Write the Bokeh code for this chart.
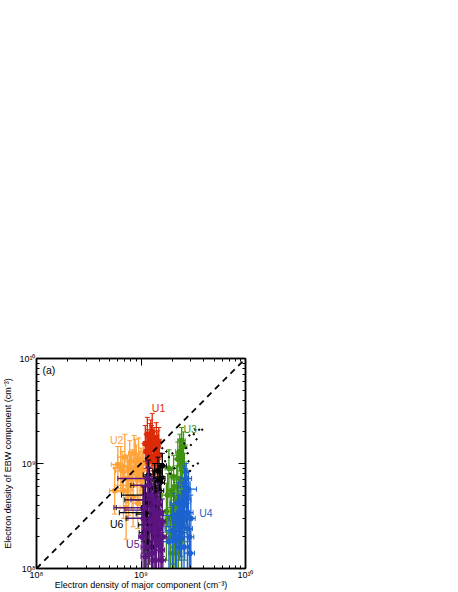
from bokeh.plotting import figure
from bokeh.models import LinearAxis, FixedTicker, Label
from bokeh.embed import file_html
from bokeh.resources import INLINE
from bokeh.core.properties import value
import math

# densities in units of 1e9 cm^-3
u1_x   = [1.10,1.15,1.18,1.22,1.25,1.28,1.30,1.33,1.36,1.40,1.42,1.45,1.50,1.20,1.26,1.35,1.12,1.48,1.16,1.24,1.32,1.38,1.44]
u1_y   = [1.55,1.90,1.25,1.70,1.35,2.00,1.15,1.55,1.10,1.75,1.30,1.45,1.20,1.05,1.60,1.00,1.30,1.60,1.45,1.80,1.40,1.25,1.10]
u1_ylo = [1.05,1.35,0.85,1.20,0.90,1.40,0.80,1.05,0.78,1.20,0.90,1.00,0.82,0.75,1.10,0.72,0.90,1.10,1.00,1.30,0.95,0.85,0.75]
u1_yhi = [2.30,2.75,1.80,2.40,1.95,3.00,1.65,2.20,1.55,2.45,1.85,2.05,1.70,1.50,2.30,1.40,1.90,2.20,2.10,2.60,2.00,1.80,1.60]
u1_xlo = [1.05,1.10,1.12,1.16,1.19,1.22,1.24,1.27,1.30,1.33,1.36,1.38,1.43,1.14,1.20,1.29,1.07,1.41,1.10,1.18,1.26,1.32,1.38]
u1_xhi = [1.16,1.21,1.24,1.28,1.31,1.34,1.37,1.40,1.43,1.47,1.49,1.52,1.58,1.26,1.32,1.42,1.18,1.55,1.22,1.30,1.38,1.44,1.50]

u2_x   = [0.60,0.66,0.70,0.74,0.78,0.82,0.86,0.90,0.95,1.00,1.05,0.68,0.76,0.84,0.92,0.72,0.64,0.80,0.98,0.88,0.56,0.93,1.03]
u2_y   = [0.98,0.85,1.15,0.72,1.05,0.88,1.25,0.95,1.10,0.90,1.00,0.55,0.62,0.48,0.78,0.38,0.92,0.82,0.70,1.05,0.55,0.42,0.85]
u2_ylo = [0.62,0.55,0.72,0.42,0.68,0.55,0.82,0.60,0.70,0.55,0.65,0.30,0.32,0.25,0.45,0.19,0.58,0.50,0.40,0.68,0.33,0.24,0.52]
u2_yhi = [1.45,1.30,1.90,1.20,1.65,1.35,1.85,1.50,1.75,1.40,1.55,0.95,1.05,0.85,1.25,0.70,1.45,1.30,1.15,1.70,0.90,0.70,1.30]
u2_xlo = [0.52,0.57,0.60,0.66,0.69,0.73,0.76,0.80,0.85,0.90,0.95,0.60,0.66,0.75,0.82,0.63,0.55,0.70,0.88,0.78,0.50,0.82,0.93]
u2_xhi = [0.69,0.75,0.80,0.83,0.88,0.92,0.97,1.00,1.06,1.11,1.16,0.77,0.86,0.94,1.03,0.81,0.73,0.90,1.09,0.99,0.64,1.04,1.14]

u3_x   = [1.75,1.85,1.95,2.05,2.15,2.25,2.30,2.35,2.40,2.45,2.50,2.55,2.60,2.00,2.20,2.10,1.90,2.38,2.48,2.28,1.80,2.42,1.92,2.12,2.44,2.62,2.05,2.32]
u3_y   = [0.35,0.90,0.55,0.75,0.28,1.10,0.45,1.30,0.70,1.65,1.00,1.45,0.85,0.22,0.60,0.40,0.30,1.20,0.50,0.18,0.50,0.95,0.20,0.16,0.25,0.30,0.14,0.33]
u3_ylo = [0.12,0.55,0.28,0.45,0.10,0.70,0.20,0.85,0.40,1.10,0.60,0.90,0.50,0.10,0.30,0.18,0.10,0.75,0.22,0.10,0.25,0.55,0.10,0.10,0.10,0.12,0.10,0.14]
u3_yhi = [0.65,1.35,0.90,1.20,0.50,1.60,0.75,1.90,1.10,2.20,1.50,2.00,1.25,0.40,0.95,0.70,0.55,1.70,0.85,0.35,0.80,1.45,0.38,0.30,0.45,0.52,0.26,0.55]
u3_xlo = [1.55,1.70,1.78,1.90,1.95,2.05,2.10,2.15,2.20,2.25,2.30,2.35,2.40,1.80,2.00,1.90,1.70,2.18,2.28,2.05,1.60,2.22,1.72,1.92,2.22,2.42,1.85,2.12]
u3_xhi = [1.95,2.00,2.12,2.20,2.35,2.45,2.50,2.55,2.60,2.65,2.70,2.75,2.80,2.20,2.40,2.30,2.10,2.58,2.68,2.50,2.00,2.62,2.12,2.32,2.66,2.82,2.25,2.52]

u4_x   = [1.85,2.05,2.20,2.35,2.50,2.60,2.65,2.70,2.75,2.45,2.30,2.55,2.15,2.80,2.62,2.40,2.00,2.72,2.58,2.85,2.90,3.00,2.78,2.95,2.25]
u4_y   = [0.18,0.32,0.20,0.25,0.35,0.48,0.60,0.72,0.53,0.22,0.30,0.42,0.19,0.34,0.65,0.28,0.23,0.45,0.16,0.57,0.20,0.30,0.24,0.14,0.42]
u4_ylo = [0.10,0.18,0.10,0.12,0.20,0.30,0.38,0.48,0.32,0.10,0.15,0.24,0.10,0.18,0.42,0.13,0.11,0.26,0.10,0.35,0.10,0.10,0.10,0.10,0.22]
u4_yhi = [0.32,0.52,0.34,0.42,0.55,0.72,0.90,1.00,0.82,0.38,0.50,0.65,0.32,0.55,0.95,0.46,0.40,0.72,0.28,0.85,0.34,0.50,0.42,0.24,0.66]
u4_xlo = [1.60,1.50,1.95,1.70,2.20,2.30,2.35,2.40,2.45,2.10,2.00,2.25,1.80,2.50,2.30,2.10,1.70,2.40,2.25,2.55,2.60,2.70,2.45,2.60,1.90]
u4_xhi = [2.10,2.60,2.50,2.65,2.85,2.90,2.95,3.05,3.00,2.75,2.60,2.85,2.55,3.15,2.95,2.70,2.35,3.00,2.85,3.40,3.20,3.30,3.10,3.25,2.60]

u6_x   = [1.05,1.10,1.15,1.20,1.25,1.30,1.35,1.40,1.45,1.50,1.55,1.60,1.22,1.32,1.12,1.42,1.18,1.28,1.52,1.38,1.07,1.17,1.27,1.37,1.47]
u6_y   = [0.38,0.50,0.30,0.62,0.42,0.26,0.70,0.35,0.85,0.55,0.72,0.95,0.45,0.58,0.34,0.40,0.78,0.33,0.66,0.48,0.22,0.18,0.16,0.20,0.24]
u6_ylo = [0.18,0.28,0.13,0.38,0.22,0.10,0.42,0.18,0.55,0.30,0.45,0.65,0.24,0.34,0.15,0.20,0.50,0.16,0.40,0.26,0.10,0.10,0.10,0.10,0.10]
u6_yhi = [0.60,0.75,0.48,0.90,0.65,0.42,1.00,0.55,1.15,0.80,1.00,1.25,0.68,0.85,0.52,0.62,1.08,0.50,0.95,0.72,0.36,0.30,0.28,0.34,0.40]
u6_xlo = [0.58,0.65,0.72,0.80,1.10,0.95,1.20,1.25,1.30,1.35,1.42,1.48,0.70,1.18,0.62,1.28,1.05,0.90,1.38,1.24,0.96,1.06,1.16,1.26,1.36]
u6_xhi = [1.25,1.30,1.30,1.35,1.40,1.45,1.50,1.55,1.60,1.65,1.70,1.75,1.38,1.48,1.28,1.58,1.33,1.45,1.68,1.53,1.18,1.28,1.38,1.48,1.58]

u5_x   = [1.02,1.08,1.12,1.18,1.22,1.28,1.32,1.38,1.42,1.48,1.52,1.58,1.62,1.15,1.25,1.35,1.45,1.05,1.55,1.30,1.40,1.20,1.10,1.60,1.50,1.36]
u5_y   = [0.20,0.38,0.16,0.62,0.28,0.14,0.45,0.22,0.33,0.17,0.26,0.12,0.20,0.72,0.50,0.30,0.42,0.30,0.15,0.36,0.19,0.24,0.13,0.28,0.34,0.12]
u5_ylo = [0.10,0.20,0.10,0.38,0.13,0.10,0.25,0.10,0.16,0.10,0.12,0.10,0.10,0.45,0.28,0.14,0.22,0.14,0.10,0.18,0.10,0.11,0.10,0.13,0.16,0.10]
u5_yhi = [0.36,0.60,0.30,0.92,0.46,0.26,0.70,0.38,0.52,0.30,0.44,0.22,0.35,1.05,0.75,0.50,0.65,0.50,0.27,0.56,0.33,0.40,0.24,0.46,0.54,0.22]
u5_xlo = [0.95,0.55,1.00,0.85,1.10,1.15,0.80,1.25,1.28,1.35,1.38,1.45,1.50,0.60,1.12,1.20,1.30,0.75,1.42,0.70,1.26,1.08,1.00,1.48,1.38,1.24]
u5_xhi = [1.14,1.20,1.24,1.30,1.35,1.40,1.45,1.52,1.56,1.62,1.66,1.72,1.76,1.28,1.38,1.48,1.60,1.18,1.68,1.44,1.54,1.32,1.20,1.72,1.64,1.48]

dots_x = [3.30,3.60,3.85,3.20,2.90,3.40,3.00,2.70,3.50,2.85,1.60,1.75,1.85,2.00,1.70,1.55,2.10,2.95,3.15,1.90,1.65,2.60,2.80]
dots_y = [2.10,2.10,2.10,1.90,1.85,1.70,1.50,1.40,1.00,1.05,1.40,1.30,1.15,1.25,1.05,0.95,0.90,0.85,0.95,0.80,0.75,1.55,1.25]

diag_x = [0.1, 10.0]
diag_y = [0.1, 10.0]

unit = 1e9
major_ticks = [1e8, 1e9, 1e10]
minor_ticks = [2e8,3e8,4e8,5e8,6e8,7e8,8e8,9e8,2e9,3e9,4e9,5e9,6e9,7e9,8e9,9e9]
tick_labels = {1e8: "10⁸", 1e9: "10⁹", 1e10: "10¹⁰"}

series = [
    ("#ffa238", u2_x, u2_y, u2_ylo, u2_yhi, u2_xlo, u2_xhi),
    ("#dc2a08", u1_x, u1_y, u1_ylo, u1_yhi, u1_xlo, u1_xhi),
    ("#3f9212", u3_x, u3_y, u3_ylo, u3_yhi, u3_xlo, u3_xhi),
    ("#1c62d0", u4_x, u4_y, u4_ylo, u4_yhi, u4_xlo, u4_xhi),
    ("#000000", u6_x, u6_y, u6_ylo, u6_yhi, u6_xlo, u6_xhi),
    ("#5c1580", u5_x, u5_y, u5_ylo, u5_yhi, u5_xlo, u5_xhi),
]
names = [("U1", 1.27, 3.36, "#dc2a08"), ("U2", 0.505, 1.66, "#ffa238"), ("U3", 2.55, 2.12, "#3f9212"),
         ("U4", 3.6, 0.34, "#1c62d0"), ("U5", 0.72, 0.173, "#5c1580"), ("U6", 0.505, 0.267, "#000000")]

FONT = "Liberation Sans"
p = figure(width=442, height=592, x_axis_type="log", y_axis_type="log",
           x_range=(1e8, 1e10), y_range=(1e8, 1e10),
           output_backend="svg", toolbar_location=None,
           min_border_left=35, min_border_right=197, min_border_top=358, min_border_bottom=15)
p.grid.visible = False
p.outline_line_color = "black"
p.outline_line_width = 1.5
p.background_fill_color = "white"

for c, x, y, ylo, yhi, xlo, xhi in series:
    X = [v * unit for v in x]; Y = [v * unit for v in y]
    YL = [v * unit for v in ylo]; YH = [v * unit for v in yhi]
    XL = [v * unit for v in xlo]; XH = [v * unit for v in xhi]
    p.segment(X, YL, X, YH, line_color=c, line_width=1.3)
    p.segment(XL, Y, XH, Y, line_color=c, line_width=1.3)
    p.scatter(X, YH, marker="dash", size=5, line_color=c, line_width=1)
    p.scatter(X, YL, marker="dash", size=5, line_color=c, line_width=1)
    p.scatter(XL, Y, marker="dash", size=5, angle=math.pi / 2, line_color=c, line_width=1)
    p.scatter(XH, Y, marker="dash", size=5, angle=math.pi / 2, line_color=c, line_width=1)
    p.scatter(X, Y, marker="circle", size=5, fill_color=c, line_color=c)

p.scatter([v * unit for v in dots_x], [v * unit for v in dots_y], marker="circle", size=1.5,
          fill_color="black", line_color="black")
p.line([v * unit for v in diag_x], [v * unit for v in diag_y], line_color="black", line_width=1.8, line_dash="6 5")

for t, x, y, c in names:
    p.text([x * unit], [y * unit], text=[t], text_color=c, text_font=value(FONT), text_font_size="10.5px",
           text_baseline="middle", text_align="left")
p.add_layout(Label(x=1.14e8, y=7.7e9, text="(a)", text_font=FONT, text_font_size="10.5px", text_color="black",
                   text_baseline="middle"))

def style(ax, labels=True):
    ax.ticker = FixedTicker(ticks=major_ticks, minor_ticks=minor_ticks)
    ax.major_tick_in = 7; ax.major_tick_out = 0
    ax.minor_tick_in = 3; ax.minor_tick_out = 0
    ax.major_tick_line_color = "black"; ax.minor_tick_line_color = "black"
    ax.major_tick_line_width = 1; ax.minor_tick_line_width = 1
    ax.axis_line_color = "black"; ax.axis_line_width = 1.5
    if labels:
        ax.major_label_overrides = tick_labels
        ax.major_label_text_font = FONT
        ax.major_label_text_font_size = "9px"
        ax.major_label_text_color = "black"
        ax.major_label_standoff = 1
        ax.axis_label_text_font = FONT
        ax.axis_label_text_font_size = "9px"
        ax.axis_label_text_font_style = "normal"
        ax.axis_label_text_color = "black"
        ax.axis_label_standoff = 0
    else:
        ax.major_label_text_font_size = "0px"
        ax.major_label_text_color = None

p.xaxis.axis_label = "Electron density of major component (cm⁻³)"
p.yaxis.axis_label = "Electron density of EBW component (cm⁻³)"
style(p.xaxis[0]); style(p.yaxis[0])
p.xaxis[0].axis_label_standoff = -3
p.yaxis[0].axis_label_standoff = 3
top = LinearAxis(); right = LinearAxis()
style(top, False); style(right, False)
p.add_layout(top, "above"); p.add_layout(right, "right")

open("out.html", "w").write(file_html(p, INLINE))
